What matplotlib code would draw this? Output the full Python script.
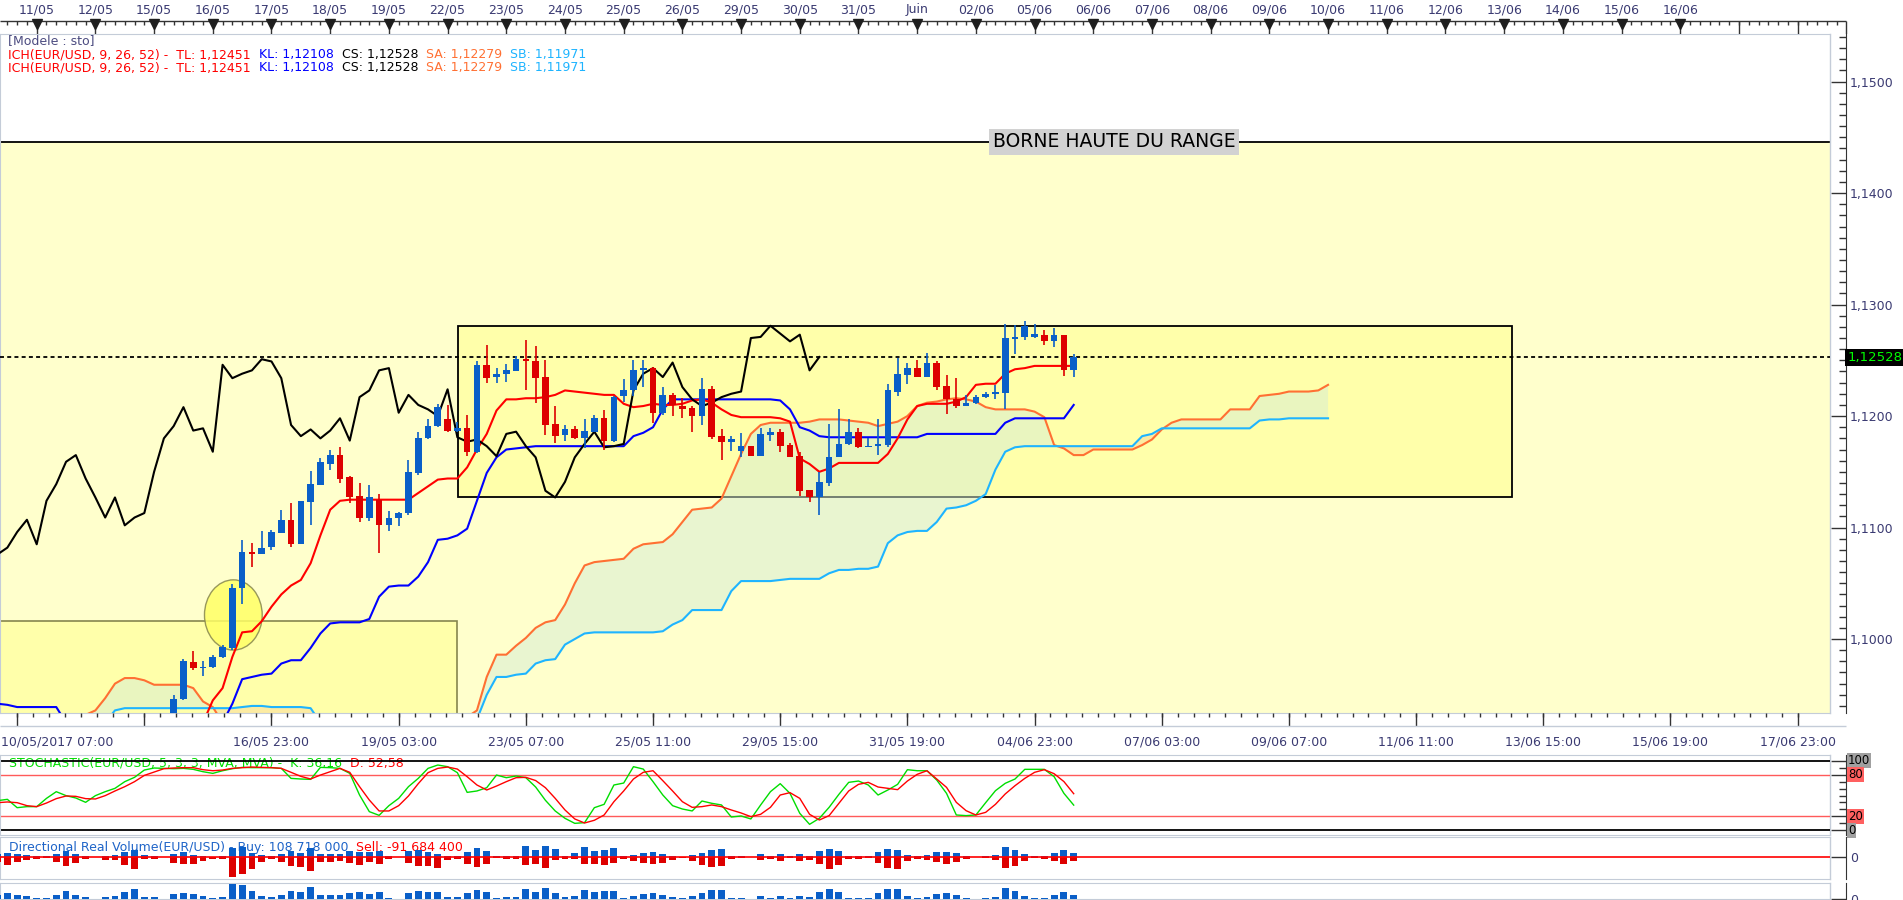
import numpy as np
import matplotlib
matplotlib.use("Agg")
import matplotlib.pyplot as plt
from matplotlib.patches import Rectangle, Ellipse
from matplotlib.ticker import MultipleLocator, FuncFormatter, NullFormatter
from matplotlib import transforms

# EUR/USD 4h candles, bar index 0 = 10/05/2017 07:00 (earlier bars are below the view)
first_candle = 18
opens = [1.0930, 1.0946, 1.0979, 1.0974, 1.0975, 1.0984, 1.0992, 1.1046, 1.1078, 1.1076,
         1.1083, 1.1095, 1.1107, 1.1085, 1.1123, 1.1138, 1.1157, 1.1165, 1.1145, 1.1128,
         1.1109, 1.1125, 1.1102, 1.1109, 1.1113, 1.1149, 1.1180, 1.1191, 1.1197, 1.1187,
         1.1189, 1.1168, 1.1246, 1.1235, 1.1238, 1.1240, 1.1251, 1.1249, 1.1235, 1.1193,
         1.1183, 1.1188, 1.1180, 1.1186, 1.1198, 1.1178, 1.1218, 1.1223, 1.1241, 1.1243,
         1.1203, 1.1219, 1.1209, 1.1207, 1.1200, 1.1224, 1.1182, 1.1177, 1.1169, 1.1173,
         1.1164, 1.1183, 1.1186, 1.1174, 1.1164, 1.1134, 1.1127, 1.1140, 1.1163, 1.1175,
         1.1186, 1.1172, 1.1173, 1.1174, 1.1222, 1.1237, 1.1243, 1.1235, 1.1248, 1.1227,
         1.1215, 1.1209, 1.1212, 1.1217, 1.1220, 1.1221, 1.1269, 1.1271, 1.1271, 1.1273,
         1.1267, 1.1273, 1.1241]
highs = [1.0950, 1.0982, 1.0989, 1.0980, 1.0986, 1.0995, 1.1049, 1.1089, 1.1086, 1.1097,
         1.1098, 1.1116, 1.1122, 1.1124, 1.1151, 1.1162, 1.1170, 1.1172, 1.1146, 1.1140,
         1.1138, 1.1130, 1.1115, 1.1114, 1.1161, 1.1186, 1.1197, 1.1211, 1.1210, 1.1195,
         1.1201, 1.1249, 1.1264, 1.1243, 1.1247, 1.1254, 1.1268, 1.1263, 1.1250, 1.1209,
         1.1192, 1.1191, 1.1197, 1.1201, 1.1205, 1.1218, 1.1233, 1.1250, 1.1250, 1.1244,
         1.1226, 1.1221, 1.1216, 1.1209, 1.1234, 1.1227, 1.1188, 1.1182, 1.1185, 1.1173,
         1.1189, 1.1189, 1.1188, 1.1176, 1.1168, 1.1134, 1.1150, 1.1193, 1.1206, 1.1197,
         1.1189, 1.1180, 1.1197, 1.1229, 1.1252, 1.1248, 1.1250, 1.1257, 1.1249, 1.1237,
         1.1234, 1.1219, 1.1219, 1.1222, 1.1228, 1.1283, 1.1282, 1.1285, 1.1283, 1.1277,
         1.1279, 1.1273, 1.1256]
lows = [1.0925, 1.0945, 1.0972, 1.0967, 1.0974, 1.0983, 1.0990, 1.1031, 1.1065, 1.1076,
        1.1080, 1.1095, 1.1083, 1.1085, 1.1102, 1.1138, 1.1152, 1.1140, 1.1122, 1.1105,
        1.1106, 1.1077, 1.1097, 1.1101, 1.1111, 1.1147, 1.1179, 1.1190, 1.1186, 1.1186,
        1.1164, 1.1167, 1.1230, 1.1230, 1.1231, 1.1240, 1.1223, 1.1212, 1.1183, 1.1176,
        1.1178, 1.1179, 1.1171, 1.1186, 1.1170, 1.1177, 1.1213, 1.1218, 1.1226, 1.1194,
        1.1201, 1.1200, 1.1198, 1.1186, 1.1192, 1.1179, 1.1161, 1.1169, 1.1163, 1.1164,
        1.1164, 1.1178, 1.1168, 1.1163, 1.1128, 1.1123, 1.1111, 1.1137, 1.1163, 1.1174,
        1.1171, 1.1172, 1.1165, 1.1172, 1.1218, 1.1229, 1.1235, 1.1235, 1.1223, 1.1202,
        1.1207, 1.1209, 1.1211, 1.1216, 1.1215, 1.1206, 1.1256, 1.1268, 1.1270, 1.1264,
        1.1262, 1.1236, 1.1235]
closes = [1.0946, 1.0980, 1.0974, 1.0975, 1.0984, 1.0993, 1.1046, 1.1078, 1.1076, 1.1082,
          1.1096, 1.1107, 1.1085, 1.1124, 1.1139, 1.1159, 1.1165, 1.1144, 1.1127, 1.1109,
          1.1127, 1.1102, 1.1109, 1.1113, 1.1150, 1.1180, 1.1191, 1.1208, 1.1187, 1.1189,
          1.1168, 1.1246, 1.1234, 1.1238, 1.1241, 1.1251, 1.1249, 1.1234, 1.1192, 1.1182,
          1.1188, 1.1180, 1.1187, 1.1198, 1.1178, 1.1217, 1.1223, 1.1241, 1.1243, 1.1203,
          1.1219, 1.1210, 1.1206, 1.1200, 1.1224, 1.1181, 1.1177, 1.1179, 1.1173, 1.1164,
          1.1184, 1.1186, 1.1173, 1.1163, 1.1133, 1.1127, 1.1141, 1.1163, 1.1175, 1.1186,
          1.1172, 1.1173, 1.1175, 1.1223, 1.1238, 1.1243, 1.1235, 1.1248, 1.1226, 1.1215,
          1.1209, 1.1212, 1.1217, 1.1220, 1.1222, 1.1270, 1.1271, 1.1281, 1.1274, 1.1267,
          1.1273, 1.1241, 1.1253]

# ichimoku lines (None = not shown); 1.0920-1.0925 = just below the view
tenkan = [None] * 21 + [
    1.0925, 1.0945, 1.0956, 1.0984, 1.1006, 1.1007, 1.1016, 1.1029, 1.1040, 1.1048,
    1.1053, 1.1068, 1.1093, 1.1116, 1.1124, 1.1125, 1.1125, 1.1125, 1.1125, 1.1125,
    1.1125, 1.1125, 1.1131, 1.1137, 1.1143, 1.1144, 1.1144, 1.1154, 1.1170, 1.1184,
    1.1205, 1.1215, 1.1215, 1.1216, 1.1216, 1.1217, 1.1219, 1.1223, 1.1222, 1.1221,
    1.1220, 1.1219, 1.1219, 1.1211, 1.1208, 1.1209, 1.1211, 1.1210, 1.1210, 1.1211,
    1.1214, 1.1215, 1.1212, 1.1206, 1.1201, 1.1199, 1.1199, 1.1199, 1.1199, 1.1198,
    1.1195, 1.1162, 1.1157, 1.1150, 1.1153, 1.1158, 1.1158, 1.1158, 1.1158, 1.1158,
    1.1166, 1.1180, 1.1197, 1.1209, 1.1211, 1.1211, 1.1211, 1.1213, 1.1217, 1.1228,
    1.1229, 1.1229, 1.1238, 1.1242, 1.1243, 1.1245, 1.1245, 1.1245, 1.1245, 1.1245]
kijun = [1.0942, 1.0941, 1.0939, 1.0939, 1.0939, 1.0939, 1.0939, 1.0925] + [None] * 15 + [
    1.0925, 1.0942, 1.0964, 1.0966, 1.0968, 1.0969, 1.0978, 1.0981, 1.0981, 1.0992,
    1.1005, 1.1014, 1.1015, 1.1015, 1.1015, 1.1018, 1.1038, 1.1047, 1.1048, 1.1048,
    1.1056, 1.1069, 1.1089, 1.1090, 1.1093, 1.1099, 1.1124, 1.1149, 1.1163, 1.1170,
    1.1171, 1.1172, 1.1173, 1.1173, 1.1173, 1.1173, 1.1173, 1.1173, 1.1173, 1.1173,
    1.1173, 1.1173, 1.1182, 1.1185, 1.1190, 1.1206, 1.1215, 1.1215, 1.1215, 1.1215,
    1.1215, 1.1215, 1.1215, 1.1215, 1.1215, 1.1215, 1.1215, 1.1214, 1.1206, 1.1190,
    1.1187, 1.1182, 1.1181, 1.1181, 1.1181, 1.1181, 1.1181, 1.1181, 1.1181, 1.1181,
    1.1181, 1.1181, 1.1184, 1.1184, 1.1184, 1.1184, 1.1184, 1.1184, 1.1184, 1.1184,
    1.1194, 1.1198, 1.1198, 1.1198, 1.1198, 1.1198, 1.1198, 1.1210]
senkou_a = [None] * 8 + [
    1.0920, 1.0932, 1.0936, 1.0947, 1.0960, 1.0965, 1.0965, 1.0963, 1.0959, 1.0959,
    1.0959, 1.0959, 1.0956, 1.0944, 1.0939, 1.0925] + [1.0920] * 24 + [
    1.0930, 1.0936, 1.0966, 1.0986, 1.0986, 1.0994, 1.1001, 1.1010, 1.1015, 1.1017,
    1.1031, 1.1050, 1.1066, 1.1069, 1.1070, 1.1071, 1.1072, 1.1081, 1.1085, 1.1086,
    1.1087, 1.1094, 1.1105, 1.1116, 1.1117, 1.1118, 1.1126, 1.1146, 1.1166, 1.1184,
    1.1192, 1.1194, 1.1194, 1.1194, 1.1194, 1.1195, 1.1197, 1.1197, 1.1197, 1.1196,
    1.1195, 1.1194, 1.1191, 1.1193, 1.1195, 1.1200, 1.1209, 1.1212, 1.1213, 1.1215,
    1.1216, 1.1215, 1.1213, 1.1208, 1.1206, 1.1206, 1.1206, 1.1206, 1.1204, 1.1199,
    1.1174, 1.1171, 1.1165, 1.1165, 1.1170, 1.1170, 1.1170, 1.1170, 1.1170, 1.1174,
    1.1179, 1.1188, 1.1194, 1.1197, 1.1197, 1.1197, 1.1197, 1.1197, 1.1206, 1.1206,
    1.1206, 1.1218, 1.1219, 1.1220, 1.1222, 1.1222, 1.1222, 1.1223, 1.1228]
senkou_b = [None] * 8 + [1.0920, 1.0920, 1.0920, 1.0925, 1.0936] + [1.0938] * 12 + [
    1.0939, 1.0940, 1.0940, 1.0939, 1.0939, 1.0939, 1.0939, 1.0938, 1.0925] + [1.0920] * 15 + [
    1.0928, 1.0950, 1.0966, 1.0966, 1.0968, 1.0969, 1.0978, 1.0981, 1.0982, 1.0995,
    1.1000, 1.1005, 1.1006, 1.1006, 1.1006, 1.1006, 1.1006, 1.1006, 1.1006, 1.1007,
    1.1013, 1.1017, 1.1026, 1.1026, 1.1026, 1.1026, 1.1043, 1.1052, 1.1052, 1.1052,
    1.1052, 1.1053, 1.1054, 1.1054, 1.1054, 1.1054, 1.1059, 1.1062, 1.1062, 1.1063,
    1.1063, 1.1065, 1.1086, 1.1093, 1.1096, 1.1097, 1.1097, 1.1105, 1.1117, 1.1118,
    1.1120, 1.1124, 1.1130, 1.1152, 1.1168, 1.1172, 1.1173, 1.1173, 1.1173, 1.1173,
    1.1173, 1.1173, 1.1173, 1.1173, 1.1173, 1.1173, 1.1173, 1.1173, 1.1182, 1.1184,
    1.1189, 1.1189, 1.1189, 1.1189, 1.1189, 1.1189, 1.1189, 1.1189, 1.1189, 1.1189,
    1.1196, 1.1197, 1.1197, 1.1198, 1.1198, 1.1198, 1.1198, 1.1198]

stoch_k = [42.6, 44.5, 32.5, 34.0, 34.0, 45.9, 55.5, 49.8, 46.4, 40.2,
           49.8, 55.5, 60.3, 69.9, 76.1, 86.6, 89.5, 89.0, 88.5, 89.0,
           87.6, 84.2, 81.8, 85.6, 88.5, 90.4, 90.0, 90.0, 90.0, 89.0,
           74.6, 73.7, 73.2, 90.4, 90.0, 89.0, 81.8, 50.7, 26.8, 21.5,
           35.4, 45.9, 62.7, 74.6, 89.0, 93.8, 91.4, 82.8, 54.5, 56.5,
           61.2, 79.4, 75.6, 78.0, 75.6, 62.2, 43.1, 27.8, 17.2, 10.0,
           11.0, 32.5, 37.3, 65.1, 67.9, 91.4, 88.0, 69.9, 50.7, 35.4,
           30.6, 27.8, 42.1, 38.8, 36.4, 19.1, 20.6, 16.3, 36.4, 55.5,
           67.0, 53.1, 24.4, 8.6, 17.2, 33.0, 51.7, 68.9, 70.8, 65.1,
           50.7, 57.9, 66.0, 87.1, 85.6, 85.6, 72.2, 53.1, 22.0, 21.1,
           22.0, 39.7, 56.9, 67.5, 73.7, 87.6, 87.6, 87.6, 77.0, 53.1,
           36.2]
stoch_d = [39.7, 40.7, 39.7, 35.4, 34.0, 39.2, 45.5, 49.3, 48.8, 45.5,
           45.0, 49.8, 56.5, 62.7, 69.9, 78.9, 83.7, 88.5, 89.5, 90.0,
           90.0, 87.1, 85.6, 86.6, 89.0, 90.0, 90.9, 90.4, 90.0, 89.0,
           83.3, 77.5, 73.7, 79.4, 84.2, 89.0, 83.3, 62.7, 43.5, 27.8,
           27.8, 35.4, 49.3, 67.0, 82.8, 89.0, 90.9, 88.0, 77.0, 65.1,
           57.9, 63.6, 69.9, 75.6, 76.1, 71.5, 61.2, 45.9, 29.2, 16.3,
           10.5, 14.4, 22.0, 41.1, 56.5, 73.7, 83.3, 85.6, 71.3, 56.5,
           41.1, 33.0, 34.0, 36.4, 34.0, 29.2, 24.9, 19.6, 23.0, 33.0,
           50.7, 54.1, 45.9, 23.0, 14.8, 21.1, 38.8, 56.5, 66.0, 68.9,
           62.2, 60.3, 58.4, 70.8, 80.4, 85.6, 73.7, 61.7, 40.2, 28.2,
           22.0, 25.8, 37.3, 52.2, 64.1, 74.6, 83.3, 87.1, 81.3, 70.0,
           52.6]

# directional volume, millions
buy_vol = [80, 96, 80, 56, 24, 32, 80, 152, 80, 32,
           0, 40, 56, 120, 176, 56, 40, 0, 88, 136,
           56, 32, 16, 40, 216, 256, 112, 56, 32, 80,
           160, 112, 216, 88, 80, 80, 152, 136, 128, 152,
           32, 0, 144, 176, 120, 88, 40, 40, 120, 216,
           152, 32, 32, 24, 272, 176, 280, 200, 40, 104,
           256, 152, 176, 224, 32, 56, 96, 120, 80, 32,
           8, 56, 104, 176, 200, 32, 32, 0, 80, 32,
           80, 32, 80, 32, 152, 200, 152, 32, 32, 32,
           128, 200, 176, 56, 32, 56, 128, 128, 104, 32,
           0, 32, 56, 248, 176, 80, 32, 32, 104, 176,
           108.7]
sell_vol = [104, 184, 104, 64, 40, 8, 104, 200, 128, 48,
            0, 64, 72, 184, 288, 48, 40, 0, 128, 160,
            168, 88, 40, 48, 464, 408, 280, 104, 48, 120,
            216, 224, 320, 104, 104, 88, 144, 184, 120, 160,
            32, 0, 128, 200, 200, 248, 56, 48, 160, 224,
            168, 8, 48, 48, 176, 168, 248, 56, 32, 32,
            152, 152, 176, 128, 32, 80, 128, 152, 128, 56,
            24, 80, 192, 224, 200, 32, 16, 0, 56, 32,
            80, 16, 80, 56, 152, 272, 176, 32, 32, 8,
            128, 248, 272, 80, 32, 56, 104, 152, 104, 32,
            0, 8, 56, 248, 200, 80, 16, 32, 80, 152,
            91.7]

last_price = 1.12528
range_top = 1.14461
box_left, box_right, box_low, box_high = 47.1, 154.8, 1.11272, 1.12808
old_box_right, old_box_high = 47.0, 1.1016
circle_xy, circle_w, circle_h = (24.1, 1.10216), 5.9, 0.0063

top_days = ['11/05', '12/05', '15/05', '16/05', '17/05', '18/05', '19/05', '22/05', '23/05',
            '24/05', '25/05', '26/05', '29/05', '30/05', '31/05', 'Juin', '02/06', '05/06',
            '06/06', '07/06', '08/06', '09/06', '10/06', '11/06', '12/06', '13/06', '14/06',
            '15/06', '16/06']
bottom_labels = ['16/05 23:00', '19/05 03:00', '23/05 07:00', '25/05 11:00', '29/05 15:00',
                 '31/05 19:00', '04/06 23:00', '07/06 03:00', '09/06 07:00', '11/06 11:00',
                 '13/06 15:00', '15/06 19:00', '17/06 23:00']

W, H = 1903, 900
BAR_PX = 9.783
X0 = 0.248
GRID = '#C4CCD8'
AXIS_TXT = '#3A3A72'
UP, DOWN = '#0A5FC8', '#DD0000'

fig = plt.figure(figsize=(W / 100, H / 100), dpi=100)


def add_ax(x0, y0, x1, y1):
    a = fig.add_axes([x0 / W, 1 - y1 / H, (x1 - x0) / W, (y1 - y0) / H])
    a.set_xlim(X0, X0 + (x1 - x0) / BAR_PX)
    return a


def style_panel(a):
    for s in ('top', 'bottom', 'left'):
        a.spines[s].set_color(GRID)
    a.spines['right'].set_position(('outward', 11.5))
    a.spines['right'].set_color('#333333')
    a.yaxis.tick_right()
    a.set_xticks([])
    a.tick_params(axis='y', which='major', direction='in', length=11, width=1,
                  color='#333333', labelsize=9, labelcolor=AXIS_TXT, pad=3)
    a.tick_params(axis='y', which='minor', direction='in', length=5, width=1, color='#333333')
    a.plot([1, 1], [0, 1], transform=a.transAxes, color=GRID, lw=1, clip_on=False)


def seq_text(a, x_px, y_px, parts, size=9, z=7):
    t = a.text(x_px / W, 1 - y_px / H, parts[0][0], color=parts[0][1], fontsize=size,
               transform=fig.transFigure, ha='left', va='center', zorder=z)
    for s, col in parts[1:]:
        t = a.annotate(s, xy=(1, 0), xycoords=t, ha='left', va='bottom', color=col,
                       fontsize=size, zorder=z)
    return t


# ---------------- main price panel ----------------
ax = add_ax(0, 34, 1830, 713.3)
style_panel(ax)

ax.axhspan(1.08, range_top, color='#FFFFCC', lw=0, zorder=0)
ax.axhline(range_top, color='black', lw=1.3, zorder=1)
ax.add_patch(Rectangle((X0 - 2, 1.085), old_box_right - X0 + 2, old_box_high - 1.085,
                       fc='#FFFFAA', ec='#86864E', lw=1.2, zorder=1))
ax.add_patch(Rectangle((box_left, box_low), box_right - box_left, box_high - box_low,
                       fc='#FFFFAA', ec='black', lw=1.3, zorder=1))
ax.add_patch(Ellipse(circle_xy, circle_w, circle_h, fc='#FFFF66', ec='#86864E', lw=1,
                     alpha=0.85, zorder=2))

sa = np.array(senkou_a, dtype=float)
sb = np.array(senkou_b, dtype=float)
xk = np.arange(len(sa))
ax.fill_between(xk, sa, sb, where=sa >= sb, interpolate=True, color='#D4EDD4',
                alpha=0.5, lw=0, zorder=2)
ax.fill_between(xk, sa, sb, where=sa < sb, interpolate=True, color='#FBD99C',
                alpha=0.5, lw=0, zorder=2)
ax.plot(xk, sa, color='#FF7033', lw=1.5, zorder=3)
ax.plot(xk, sb, color='#1EB4FF', lw=1.5, zorder=3)

kj = np.array(kijun, dtype=float)
tk = np.array(tenkan, dtype=float)
ax.plot(np.arange(len(kj)), kj, color='#0000FF', lw=1.5, zorder=4)
ax.plot(np.arange(len(tk)), tk, color='#FF0000', lw=1.5, zorder=4)
chikou = closes[26 - first_candle:]
ax.plot(np.arange(len(chikou)), chikou, color='black', lw=1.5, zorder=4)

ax.axhline(last_price, color='black', lw=1.3, ls=(0, (2.2, 1.8)), zorder=3.5)

o, h, l, c = (np.array(v) for v in (opens, highs, lows, closes))
xc = np.arange(first_candle, first_candle + len(o))
cols = [UP if cc >= oo else DOWN for oo, cc in zip(o, c)]
ax.vlines(xc, l, h, colors=cols, lw=1.2, zorder=5)
ax.bar(xc, np.maximum(np.abs(c - o), 0.00003), bottom=np.minimum(o, c), width=0.68,
       color=cols, lw=0, zorder=6)

ax.text(114.1, range_top, 'BORNE HAUTE DU RANGE', ha='center', va='center',
        fontsize=13.5, color='black', zorder=8,
        bbox=dict(boxstyle='square,pad=0.18', fc='#D2D2D2', ec='none'))

ax.set_xlim(X0, X0 + 1830 / BAR_PX)
ax.set_ylim(1.09334, 1.15427)
ax.yaxis.set_major_locator(MultipleLocator(0.01))
ax.yaxis.set_minor_locator(MultipleLocator(0.001))
ax.yaxis.set_major_formatter(FuncFormatter(lambda v, p: f'{v:.4f}'.replace('.', ',')))

tr = transforms.blended_transform_factory(ax.transAxes, ax.transData)
ax.text(1.0095, last_price, '1,12528', transform=tr, ha='left', va='center',
        fontsize=9.5, color='#00FF00', clip_on=False, zorder=10,
        bbox=dict(boxstyle='square,pad=0.15', fc='black', ec='none'))

seq_text(ax, 8, 40.5, [('[Modele : sto]', '#4B4B80')])
ich = [('ICH(EUR/USD, 9, 26, 52) -  TL: 1,12451', '#FF0000'), ('  KL: 1,12108', '#0000FF'),
       ('  CS: 1,12528', 'black'), ('  SA: 1,12279', '#FF7033'), ('  SB: 1,11971', '#1EB4FF')]
seq_text(ax, 8, 54.5, ich)
seq_text(ax, 8, 68, ich)

# ---------------- top date axis ----------------
axt = add_ax(0, 0, 1850, 34)
axt.set_ylim(34, 0)
axt.axis('off')
x_end = X0 + 1846 / BAR_PX
axt.hlines(21, X0, x_end, color='#333333', lw=1)
axt.vlines(np.arange(0, int(x_end) + 1), 21, 25, color='#333333', lw=1)
day_bounds = 4 + 6 * np.arange(31)
axt.vlines(day_bounds, 21, 34, color='#333333', lw=1)
axt.vlines([x_end], 21, 34, color='#333333', lw=1)
lab_x = 4 + 6 * np.arange(len(top_days))
axt.plot(lab_x, np.full(len(lab_x), 24.3), 'v', ms=7, color='#1E1E1E', lw=0)
for xv, s in zip(lab_x, top_days):
    axt.text(xv, 10, s, ha='center', va='center', fontsize=9, color=AXIS_TXT)

# ---------------- bottom date axis ----------------
axd = add_ax(0, 713.3, 1850, 755)
axd.set_ylim(755, 713.3)
axd.axis('off')
axd.vlines(2 + 13 * np.arange(15), 713.3, 726, color='#333333', lw=1)
axd.vlines(2 + 13 / 8 * np.arange(113), 713.3, 717, color='#333333', lw=1)
axd.hlines(726, X0, x_end, color=GRID, lw=1)
axd.text(X0 + 0.1, 741.7, '10/05/2017 07:00', ha='left', va='center', fontsize=9, color=AXIS_TXT)
for j, s in enumerate(bottom_labels):
    axd.text(28 + 13 * j, 741.7, s, ha='center', va='center', fontsize=9, color=AXIS_TXT)

# ---------------- stochastic ----------------
axs = add_ax(0, 755, 1830, 835)
style_panel(axs)
xs = np.arange(len(stoch_k))
for lvl, col, lw in ((100, 'black', 1.3), (0, 'black', 1.3), (80, '#FF5A5A', 1), (20, '#FF5A5A', 1)):
    axs.axhline(lvl, color=col, lw=lw, zorder=2)
axs.plot(xs, stoch_k, color='#00DD00', lw=1, zorder=3)
axs.plot(xs, stoch_d, color='#FF0000', lw=1, zorder=3)
axs.set_xlim(X0, X0 + 1830 / BAR_PX)
axs.set_ylim(-6.75, 108.2)
axs.set_yticks([0, 20, 80, 100])
axs.yaxis.set_major_formatter(NullFormatter())
axs.yaxis.set_minor_locator(MultipleLocator(10))
trs = transforms.blended_transform_factory(axs.transAxes, axs.transData)
for val, fc in ((100, '#A0A0A0'), (80, '#FF6060'), (20, '#FF6060'), (0, '#A0A0A0')):
    axs.text(1.0098, val, str(val), transform=trs, ha='left', va='center', fontsize=8.5,
             color='black', clip_on=False, bbox=dict(boxstyle='square,pad=0.1', fc=fc, ec='none'))
seq_text(axs, 8.6, 763.3, [('STOCHASTIC(EUR/USD, 5, 3, 3, MVA, MVA) -  K: 36,16', '#00DD00'),
                           ('  D: 52,58', '#FF0000')], z=1)

# ---------------- directional volume ----------------
bv = np.array(buy_vol, dtype=float)
sv = np.array(sell_vol, dtype=float)
axv = add_ax(0, 837, 1830, 879)
style_panel(axv)
axv.bar(xs, bv, width=0.7, color=UP, lw=0, zorder=3)
axv.bar(xs, -sv, width=0.7, color=DOWN, lw=0, zorder=3)
axv.axhline(0, color='#FF0000', lw=1.2, zorder=4)
axv.set_xlim(X0, X0 + 1830 / BAR_PX)
axv.set_ylim(-520.8, 487.2)
axv.set_yticks([0])
axv.set_yticklabels(['0'])
seq_text(axv, 8.6, 847.3, [('Directional Real Volume(EUR/USD) - Buy: 108 718 000', '#1E64C8'),
                           ('  Sell: -91 684 400', '#FF0000')], z=1)

# ---------------- total volume ----------------
axo = add_ax(0, 883, 1830, 899)
style_panel(axo)
axo.bar(xs, bv + sv, width=0.7, color=UP, lw=0, zorder=3)
axo.set_xlim(X0, X0 + 1830 / BAR_PX)
axo.set_ylim(0, 744)
axo.set_yticks([0])
axo.set_yticklabels(['0'])

fig.savefig('out.png', dpi=100)
